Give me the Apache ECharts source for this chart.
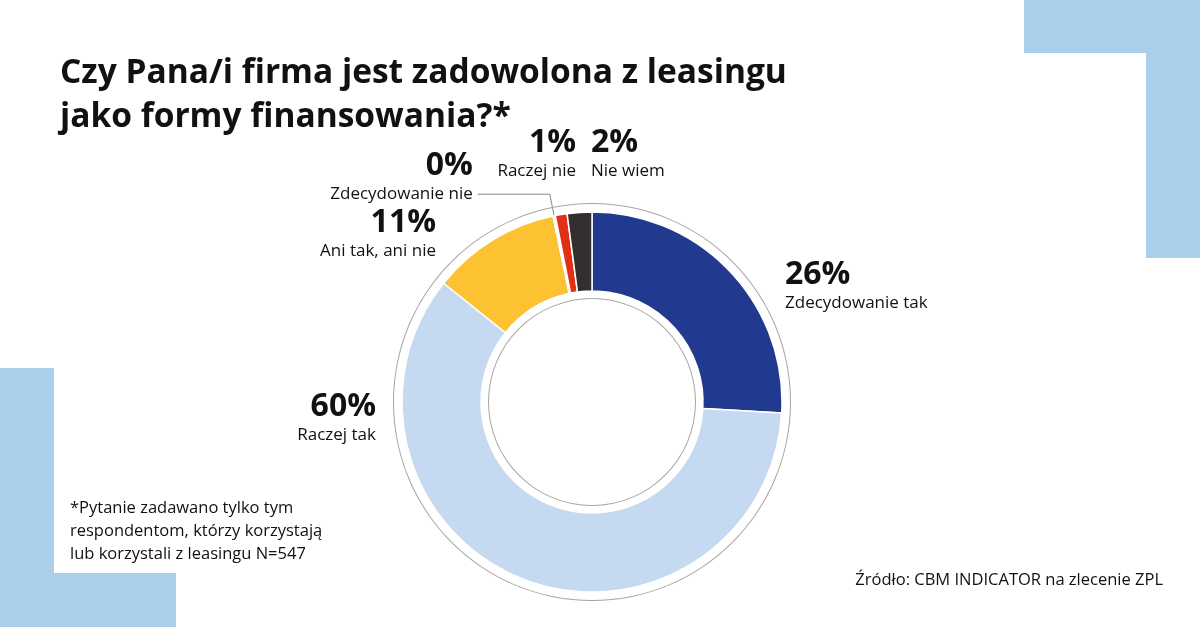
<!DOCTYPE html>
<html>
<head>
<meta charset="utf-8">
<script src="https://cdn.jsdelivr.net/npm/echarts@6/dist/echarts.min.js"></script>
<style>
  html, body { margin: 0; padding: 0; background: #fff; }
  #chart { width: 1200px; height: 627px; }
</style>
</head>
<body>
<div id="chart"></div>
<script>
var categories = ['Zdecydowanie tak', 'Raczej tak', 'Ani tak, ani nie', 'Zdecydowanie nie', 'Raczej nie', 'Nie wiem'];
var values = [26, 60, 11, 0.2, 1, 2.1];
var colors = ['#213a8f', '#c5daf0', '#fdc232', '#ffffff', '#e03016', '#332f2e'];

var font = '"Open Sans"';
var blue = '#a9cfeb';

// where each label block sits (item 3 keeps the library's own outside placement)
var labelSpots = [
    { x: 785, y: 259, align: 'left' },
    { x: 376, y: 391, align: 'right' },
    { x: 436, y: 207, align: 'right' },
    null,
    { x: 576, y: 127, align: 'right' },
    { x: 591, y: 127, align: 'left' }
];

var pieData = categories.map(function(name, i) {
    var item = {
        name: name,
        value: values[i],
        itemStyle: { color: colors[i] }
    };
    if (i === 3) {
        item.labelLine = { show: true, length: 22, length2: 72, lineStyle: { color: '#8a8a8a', width: 1 } };
        item.label = { padding: [0, 0, 32, 0] };
    }
    return item;
});

var myChart = echarts.init(document.getElementById('chart'), null, { renderer: 'canvas' });
myChart.setOption({
    backgroundColor: '#ffffff',
    animation: false,
    title: {
        text: 'Czy Pana/i firma jest zadowolona z leasingu\njako formy finansowania?*',
        left: 55,
        top: 46,
        textStyle: {
            fontFamily: font,
            fontSize: 33.5,
            fontWeight: 'bold',
            lineHeight: 44,
            color: '#111'
        }
    },
    graphic: [
        { type: 'rect', shape: { x: 1024, y: 0, width: 176, height: 53 }, style: { fill: blue }, silent: true },
        { type: 'rect', shape: { x: 1146, y: 0, width: 54, height: 258 }, style: { fill: blue }, silent: true },
        { type: 'rect', shape: { x: 0, y: 368, width: 54, height: 259 }, style: { fill: blue }, silent: true },
        { type: 'rect', shape: { x: 0, y: 573, width: 176, height: 54 }, style: { fill: blue }, silent: true },
        {
            type: 'text', left: 70, top: 497,
            style: {
                text: '*Pytanie zadawano tylko tym\nrespondentom, którzy korzystają\nlub korzystali z leasingu N=547',
                font: '16.5px ' + font, lineHeight: 23, fill: '#111'
            }
        },
        {
            type: 'text', right: 37, top: 572,
            style: { text: 'Źródło: CBM INDICATOR na zlecenie ZPL', font: '16.5px ' + font, fill: '#111' }
        }
    ],
    series: [{
        // outer thin ring
        type: 'pie',
        silent: true,
        center: [592, 402],
        radius: [198, 199],
        label: { show: false },
        labelLine: { show: false },
        itemStyle: { color: '#a5a5a5' },
        data: [1]
    }, {
        // inner thin ring
        type: 'pie',
        silent: true,
        center: [592, 402],
        radius: [103, 104],
        label: { show: false },
        labelLine: { show: false },
        itemStyle: { color: '#a5a5a5' },
        data: [1]
    }, {
        name: 'Zadowolenie z leasingu',
        type: 'pie',
        center: [592, 402],
        radius: [111, 190],
        startAngle: 90,
        clockwise: true,
        avoidLabelOverlap: false,
        itemStyle: { borderColor: '#ffffff', borderWidth: 1.5 },
        label: {
            show: true,
            position: 'outside',
            fontFamily: font,
            formatter: function(p) {
                return '{pct|' + Math.round(p.value) + '%}\n{name|' + p.name + '}';
            },
            rich: {
                pct: { fontFamily: font, fontSize: 32, fontWeight: 'bold', lineHeight: 32, color: '#111' },
                name: { fontFamily: font, fontSize: 17, lineHeight: 25, color: '#111' }
            }
        },
        labelLine: { show: false },
        labelLayout: function(params) {
            var s = labelSpots[params.dataIndex];
            if (!s) {
                return {};
            }
            return { x: s.x, y: s.y, align: s.align, verticalAlign: 'top' };
        },
        data: pieData
    }]
});
</script>
</body>
</html>
